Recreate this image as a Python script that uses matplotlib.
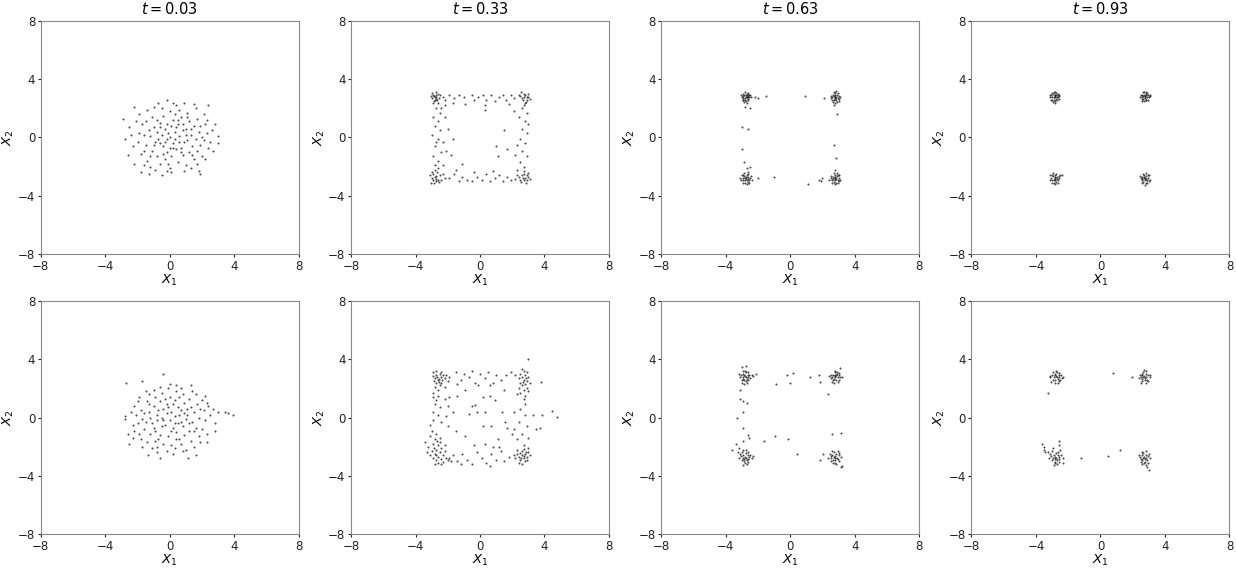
import numpy as np
import matplotlib
matplotlib.use('Agg')
import matplotlib.pyplot as plt

# time labels for the top row
times = ['0.03', '0.33', '0.63', '0.93']
ticks = [-8, -4, 0, 4, 8]

# samples, row 1
top_t003 = [(-2.9, 1.3), (-2.2, 2.1), (2.4, 2.2), (2.8, 0.9), (3.0, 0.1), (3.0, -0.4), (-1.8, -2.4), (1.8, -2.3),
            (-2.8, -0.1), (0.9, 2.4), (-0.7, 2.4), (0.2, 2.4), (-2.5, 0.7), (-2.3, -0.6), (-2.6, -1.2), (-2.2, -1.8),
            (-1.9, 1.6), (-1.7, 0.9), (-1.6, 0.2), (-1.5, -0.5), (-1.8, -1.1), (-1.4, -1.6), (-1.2, -2.0), (-1.4, 1.9),
            (-1.1, 1.4), (-1.0, 0.7), (-1.2, 0.1), (-0.9, -0.3), (-1.1, -0.9), (-0.8, -1.3), (-0.6, -1.8), (-0.9, -2.2),
            (-0.5, 2.0), (-0.4, 1.5), (-0.6, 1.0), (-0.3, 0.6), (-0.5, 0.2), (-0.2, -0.1), (-0.4, -0.6), (-0.2, -1.0),
            (-0.3, -1.5), (0.0, -2.1), (0.1, -2.4), (0.0, 1.8), (0.2, 1.2), (0.1, 0.8), (0.3, 0.4), (0.0, 0.0),
            (0.2, -0.4), (0.4, -0.8), (0.1, -1.3), (0.5, -1.7), (0.6, 1.9), (0.7, 1.4), (0.5, 0.9), (0.8, 0.5),
            (0.6, 0.1), (0.9, -0.3), (0.7, -0.7), (0.8, -1.2), (1.0, -1.9), (1.1, 1.7), (1.2, 1.1), (1.0, 0.6),
            (1.3, 0.2), (1.1, -0.2), (1.4, -0.6), (1.2, -1.0), (1.5, -1.5), (1.6, 2.0), (1.7, 1.3), (1.5, 0.8),
            (1.8, 0.4), (1.6, -0.1), (1.9, -0.5), (1.7, -0.9), (2.0, -1.3), (2.1, 1.6), (2.2, 0.9), (2.3, 0.3),
            (2.1, -0.2), (2.4, -0.7), (2.2, -1.5), (2.6, 0.5), (2.5, -0.3), (-1.3, 0.5), (-0.8, 0.4), (-0.7, -0.1),
            (-0.1, 0.3), (0.3, -0.1), (0.4, 0.7), (-0.2, 0.9), (-0.6, -0.4), (0.6, -0.3), (0.2, -0.7), (-0.4, -1.1),
            (0.5, 1.2), (-0.8, 1.2), (1.0, 0.2), (-1.0, -0.5), (0.0, -0.7), (0.3, 1.6), (-0.1, -1.8), (-1.5, 1.1),
            (1.3, 0.6), (-1.6, -0.9), (1.4, -1.2), (-0.6, 0.7), (0.7, -1.0), (-0.3, -0.3), (0.8, 0.9), (-1.9, 0.3),
            (1.9, 0.8), (-1.2, -1.3), (1.1, 1.4), (-2.0, -0.3), (2.0, 0.0), (-0.2, -2.3), (0.4, 2.2), (-1.0, 2.1),
            (1.3, -2.1), (-2.1, 1.1), (2.3, 1.2), (-1.6, -1.9), (1.7, -1.8), (-2.4, 0.2), (2.7, -0.9), (-0.5, -2.6),
            (0.9, -2.3), (-1.3, -2.5), (1.5, 2.3), (-0.2, 2.6), (1.9, -2.5)]

top_t033 = [(-2.9, 2.9), (-2.7, 2.8), (-2.8, 2.6), (-2.6, 3.0), (-3.0, 2.7), (-2.75, 2.95), (-2.85, 2.5), (-2.55, 2.7),
            (-2.95, 3.05), (-2.65, 2.55), (-2.8, 2.75), (-2.7, 3.1), (-3.05, 2.85), (-2.5, 2.9), (-2.9, 2.4), (-2.6, 2.35),
            (-2.85, 2.85), (-2.75, 2.65), (-2.3, 2.8), (-2.2, 2.6),
            (2.8, 2.9), (2.6, 2.7), (2.9, 2.6), (2.7, 3.0), (3.0, 2.8), (2.5, 2.85), (2.85, 2.45), (2.65, 2.55),
            (2.95, 3.0), (2.75, 2.75), (2.4, 2.95), (3.1, 2.65), (2.8, 2.35), (2.55, 3.1), (2.9, 2.75), (2.7, 2.2),
            (-2.8, -2.7), (-2.6, -2.9), (-2.9, -2.5), (-2.7, -3.0), (-3.0, -2.8), (-2.5, -2.6), (-2.85, -3.1), (-2.65, -2.4),
            (-2.95, -2.35), (-2.75, -2.85), (-2.4, -2.9), (-3.1, -2.6), (-2.55, -3.05), (-2.8, -2.2), (-2.3, -2.5),
            (-2.9, -2.95), (-2.7, -2.65), (-2.2, -2.8), (-3.05, -3.1), (-2.6, -2.1),
            (2.8, -2.8), (2.6, -2.6), (2.9, -2.9), (2.7, -2.5), (3.0, -2.7), (2.5, -2.95), (2.85, -3.1), (2.65, -2.75),
            (2.95, -2.45), (3.1, -2.85), (2.4, -2.7), (2.75, -2.3), (2.55, -3.05), (2.2, -2.85), (2.9, -2.6), (2.7, -2.95),
            (2.3, -2.55),
            (-1.9, 2.9), (-1.6, 2.7), (-1.3, 2.9), (-1.0, 2.8), (-0.9, 2.3), (-0.5, 2.9), (-0.4, 2.6), (-0.1, 2.8),
            (0.2, 2.9), (0.4, 2.6), (0.7, 2.9), (0.9, 2.5), (1.2, 2.8), (1.4, 2.9), (1.6, 2.6), (1.9, 2.9), (2.1, 2.7),
            (-1.7, 2.4), (0.3, 2.2), (0.3, 1.9), (1.8, 2.3), (-2.2, 2.2),
            (-2.7, 2.0), (-2.5, 1.7), (-2.9, 1.4), (-2.6, 1.1), (-2.2, 1.4), (-2.8, 0.8), (-2.5, 0.5), (-3.0, 0.2),
            (-2.6, -0.1), (-2.3, -0.3), (-2.8, -0.6), (-2.4, -1.0), (-2.9, -1.3), (-2.6, -1.6), (-2.3, -1.9),
            (-2.8, -1.9), (-2.1, -0.9), (-2.0, 0.6), (-2.7, -0.3), (-2.4, 2.0),
            (2.6, 2.0), (2.9, 1.7), (2.4, 1.4), (2.8, 1.1), (2.6, 0.6), (2.9, 0.3), (2.5, -0.1), (2.3, -0.5),
            (2.8, -0.4), (2.6, -0.9), (2.2, -1.2), (2.9, -1.3), (2.5, -1.7), (2.7, -2.0), (2.3, -2.2), (2.1, 1.8),
            (2.95, 0.9),
            (-1.9, -2.8), (-1.6, -2.5), (-1.3, -3.0), (-1.1, -2.7), (-0.8, -2.9), (-0.5, -3.0), (-0.2, -2.7),
            (0.1, -2.9), (0.4, -2.5), (0.6, -3.0), (0.9, -2.8), (1.2, -2.6), (1.4, -3.0), (1.7, -2.7), (1.9, -2.9),
            (-1.5, -2.2), (0.8, -2.3), (-0.4, -2.4),
            (1.5, 0.5), (1.0, -0.6), (1.1, -1.3), (1.7, -0.8), (-1.1, -1.8), (-1.7, -0.1), (-1.8, -1.2)]

top_t063 = [(-2.75, 2.8), (-2.6, 2.9), (-2.9, 2.7), (-2.7, 3.0), (-2.85, 2.95), (-2.55, 2.75), (-2.95, 2.85),
            (-2.65, 2.65), (-2.8, 2.55), (-3.0, 2.75), (-2.5, 2.9), (-2.7, 2.75), (-2.8, 3.1), (-2.6, 2.6), (-2.9, 2.6),
            (-2.75, 2.9), (-2.65, 3.05), (-3.05, 2.9), (-2.45, 2.8), (-2.85, 2.45), (-2.7, 2.85), (-2.8, 2.7),
            (-2.6, 2.8), (-2.9, 3.0), (-2.75, 2.5), (-2.55, 2.95), (-2.95, 2.55), (-2.7, 2.4),
            (-2.2, 2.8), (-2.0, 2.7), (-1.5, 2.85), (-2.8, 2.1), (-2.5, 2.05), (0.9, 2.85), (2.1, 2.7), (2.9, 1.6),
            (2.7, 2.2), (-3.0, 0.7), (-2.6, 0.55), (-3.0, -0.8), (-2.85, -1.65), (-2.7, -2.1), (-2.5, -2.05),
            (-2.0, -2.75), (-1.0, -2.7), (1.1, -3.2), (1.8, -2.9), (2.0, -2.8), (1.9, -3.0), (2.7, -0.5), (2.85, -1.4),
            (2.75, -2.2),
            (2.8, 2.8), (2.65, 2.9), (2.95, 2.7), (2.75, 3.05), (2.9, 2.95), (2.6, 2.75), (3.0, 2.85), (2.7, 2.6),
            (2.85, 2.55), (3.05, 2.65), (2.55, 2.85), (2.8, 2.95), (2.7, 3.15), (2.9, 2.45), (2.6, 2.6), (2.85, 2.75),
            (3.1, 2.8), (2.75, 2.4), (2.95, 3.05), (2.5, 2.7), (2.8, 2.65), (2.7, 2.85), (3.0, 2.5), (2.65, 2.45),
            (2.85, 3.2), (2.75, 2.7),
            (-2.75, -2.8), (-2.6, -2.7), (-2.9, -2.9), (-2.7, -2.55), (-2.85, -2.65), (-2.55, -2.95), (-2.95, -2.75),
            (-2.65, -3.05), (-2.8, -3.1), (-3.0, -2.6), (-2.5, -2.8), (-2.7, -2.9), (-2.85, -2.45), (-2.6, -2.85),
            (-2.9, -3.15), (-2.75, -2.7), (-3.05, -2.95), (-2.45, -2.65), (-2.8, -2.95), (-2.65, -2.5), (-2.7, -3.2),
            (-2.9, -2.55), (-2.55, -3.1), (-2.8, -2.8), (-2.6, -2.4), (-3.1, -2.8), (-2.4, -2.9),
            (2.8, -2.8), (2.65, -2.7), (2.95, -2.9), (2.75, -2.55), (2.9, -2.65), (2.6, -2.95), (3.0, -2.75),
            (2.7, -3.05), (2.85, -3.1), (3.05, -2.6), (2.55, -2.8), (2.8, -2.95), (2.9, -2.45), (2.65, -2.85),
            (2.95, -3.1), (2.75, -2.7), (3.1, -2.95), (2.5, -2.65), (2.85, -2.85), (2.7, -2.45), (2.8, -3.2),
            (2.95, -2.55), (2.6, -3.1), (2.75, -2.8), (2.4, -2.9), (3.0, -3.0)]

top_t093 = [(-2.85, 2.85), (-2.7, 2.95), (-3.0, 2.75), (-2.8, 3.1), (-2.95, 3.0), (-2.65, 2.8), (-3.05, 2.9),
            (-2.75, 2.65), (-2.9, 2.6), (-3.1, 2.8), (-2.6, 2.95), (-2.8, 2.8), (-2.9, 3.15), (-2.7, 2.6), (-3.0, 2.55),
            (-2.85, 2.95), (-2.75, 3.05), (-3.15, 2.95), (-2.55, 2.85), (-2.95, 2.45), (-2.8, 2.9), (-2.9, 2.75),
            (-2.7, 2.75), (-3.0, 3.05), (-2.85, 2.5), (-2.65, 3.0), (-3.05, 2.6), (-2.8, 2.4), (-2.6, 2.65),
            (2.75, 2.85), (2.6, 2.95), (2.9, 2.75), (2.7, 3.1), (2.85, 3.0), (2.55, 2.8), (2.95, 2.9), (2.65, 2.65),
            (2.8, 2.6), (3.0, 2.8), (2.5, 2.95), (2.75, 2.75), (2.65, 3.15), (2.85, 2.55), (2.55, 2.65), (2.8, 2.95),
            (3.05, 2.85), (2.7, 2.5), (2.9, 3.05), (2.45, 2.8), (2.75, 2.7), (2.65, 2.85), (2.95, 2.6), (2.6, 2.5),
            (2.85, 3.15), (2.7, 2.95), (3.1, 2.9),
            (-2.85, -2.8), (-2.7, -2.7), (-3.0, -2.9), (-2.8, -2.55), (-2.95, -2.65), (-2.65, -2.95), (-3.05, -2.75),
            (-2.75, -3.05), (-2.9, -3.1), (-3.1, -2.6), (-2.6, -2.8), (-2.8, -2.9), (-2.95, -2.45), (-2.7, -2.85),
            (-3.0, -3.15), (-2.85, -2.7), (-3.15, -2.95), (-2.55, -2.65), (-2.9, -2.95), (-2.75, -2.5), (-2.8, -3.2),
            (-3.0, -2.55), (-2.65, -3.1), (-2.85, -2.85), (-2.5, -2.6), (-2.4, -2.55),
            (2.75, -2.8), (2.6, -2.7), (2.9, -2.9), (2.7, -2.55), (2.85, -2.65), (2.55, -2.95), (2.95, -2.75),
            (2.65, -3.05), (2.8, -3.1), (3.0, -2.6), (2.5, -2.8), (2.75, -2.95), (2.85, -2.45), (2.6, -2.85),
            (2.9, -3.15), (2.7, -2.7), (3.05, -2.95), (2.45, -2.65), (2.8, -2.85), (2.65, -2.5), (2.75, -3.25),
            (2.95, -2.55), (2.55, -3.1), (2.7, -2.8), (3.0, -3.0)]

# row 2
bot_t003 = [(-0.45, 3.0), (-2.7, 2.4), (-1.75, 2.5), (3.0, 0.35), (3.4, 0.4), (3.9, 0.15), (3.6, 0.3), (-2.8, 0.1),
            (-2.8, -0.1), (-2.5, -1.8), (-1.35, -2.6), (-0.6, -2.8), (1.15, -2.8), (1.65, -2.55), (2.3, -1.7),
            (2.8, -0.9), (-2.6, -1.1), (-2.3, -1.4), (0.4, 2.2), (0.0, 2.3), (1.3, 2.2), (2.3, 1.0), (2.7, 0.6),
            (2.8, -0.4),
            (-2.2, 0.8), (-2.1, 0.2), (-2.0, -0.4), (-2.2, -0.9), (-1.9, 1.4), (-1.8, 0.5), (-1.7, -0.1), (-1.6, -0.8),
            (-1.8, -1.5), (-1.5, 1.8), (-1.4, 1.1), (-1.3, 0.4), (-1.5, -0.3), (-1.2, -1.1), (-1.4, -1.7), (-1.1, -2.1),
            (-1.0, 1.9), (-0.9, 1.4), (-1.0, 0.8), (-0.8, 0.2), (-1.1, -0.4), (-0.9, -0.9), (-0.7, -1.5), (-0.8, -2.0),
            (-0.5, 1.7), (-0.6, 1.1), (-0.4, 0.6), (-0.5, 0.0), (-0.3, -0.5), (-0.6, -1.2), (-0.4, -1.8), (-0.2, -2.3),
            (-0.1, 2.0), (0.0, 1.4), (-0.2, 0.9), (0.1, 0.4), (0.0, -0.2), (0.2, -0.7), (-0.1, -1.3), (0.1, -1.9),
            (0.4, 1.8), (0.3, 1.2), (0.5, 0.7), (0.3, 0.1), (0.5, -0.4), (0.4, -1.0), (0.6, -1.5), (0.3, -2.1),
            (0.8, 1.6), (0.9, 1.0), (0.7, 0.5), (1.0, -0.1), (0.8, -0.6), (0.9, -1.2), (0.7, -1.8), (1.2, 1.3),
            (1.3, 0.7), (1.1, 0.2), (1.4, -0.3), (1.2, -0.9), (1.3, -1.6), (1.0, -2.2), (1.6, 1.6), (1.7, 0.9),
            (1.5, 0.4), (1.8, 0.0), (1.6, -0.7), (1.8, -1.3), (1.5, -2.0), (2.0, 1.2), (2.1, 0.5), (2.2, -0.2),
            (2.0, -0.8), (2.3, -1.1), (2.5, 0.2), (2.4, 0.8),
            (-1.2, 0.0), (-0.7, 0.5), (-0.2, 0.3), (0.2, 0.9), (0.6, 0.2), (-0.5, -0.6), (0.1, -0.9), (0.7, -0.3),
            (-1.0, -0.7), (1.1, 0.6), (-0.3, 1.3), (0.6, 1.4), (-1.3, 0.9), (1.5, -0.9), (-0.9, -1.6), (0.4, -1.5),
            (-0.1, 0.7), (0.9, 0.3), (-1.6, 0.3), (1.9, 0.6), (-0.6, 2.1), (0.7, 2.0), (-1.3, 1.6), (1.4, 1.8),
            (-2.0, 1.1), (2.2, 1.5), (-1.9, -1.1), (1.9, -1.7), (-0.8, -2.4), (0.8, -2.3), (-1.7, -2.0), (0.2, -2.5),
            (-2.4, 0.4), (-2.3, -0.5), (1.2, -0.4), (-0.4, -0.2), (0.3, -0.4), (-0.8, -0.2)]

bot_t033 = [(-2.7, 2.9), (-2.5, 3.0), (-2.8, 2.7), (-2.6, 2.6), (-2.9, 3.1), (-2.4, 2.8), (-2.7, 3.2), (-2.3, 2.95),
            (-2.85, 2.5), (-2.55, 2.45), (-2.2, 2.7), (-2.65, 2.75), (-2.45, 3.1), (-2.9, 2.85), (-2.35, 2.55),
            (-2.75, 2.35), (-2.1, 2.9), (-2.5, 2.2), (-2.8, 2.1), (-2.6, 1.9), (-2.9, 1.7), (-2.2, 2.1), (-2.0, 2.5),
            (-2.55, 2.65), (-2.4, 2.35),
            (-2.9, 1.4), (-2.6, 1.5), (-2.2, 1.3), (-2.8, 0.9), (-2.5, 0.7), (-2.0, 0.8), (-2.9, 0.4), (-2.6, 0.2),
            (-2.1, 0.1), (-2.9, -0.2), (-2.4, -0.3), (-2.0, -0.6), (-3.1, -0.5), (-2.7, 1.2), (-1.9, 1.4),
            (-3.0, -0.9), (-2.7, -1.1), (-3.1, -1.3), (-2.8, -1.5), (-2.5, -1.4), (-3.4, -1.7), (-2.9, -1.8),
            (-2.6, -1.9), (-3.2, -2.0), (-2.7, -2.2), (-2.4, -2.1), (-3.0, -2.3), (-2.8, -2.5), (-2.5, -2.4),
            (-2.2, -2.3), (-3.1, -2.6), (-2.6, -2.7), (-2.3, -2.6), (-2.9, -2.8), (-2.7, -2.95), (-2.4, -2.85),
            (-2.1, -2.8), (-2.6, -3.1), (-2.3, -3.05), (-2.0, -2.95), (-2.8, -3.2), (-1.9, -2.75), (-2.5, -1.7),
            (-2.2, -1.9), (-3.3, -2.4), (-2.85, -2.1), (-2.65, -1.6), (-2.45, -3.2), (-1.8, -3.0), (-2.75, -2.6),
            (-1.9, 2.8), (-1.5, 3.1), (-1.2, 2.6), (-1.0, 3.0), (-0.7, 2.8), (-0.5, 3.2), (-0.3, 2.4), (0.0, 3.0),
            (0.3, 2.7), (0.5, 3.1), (0.8, 2.4), (1.0, 2.9), (1.3, 2.6), (-1.4, 2.3), (-0.1, 2.2), (0.6, 2.2),
            (1.6, 2.9), (1.9, 3.1),
            (2.7, 3.2), (2.5, 3.0), (2.9, 3.1), (2.6, 2.8), (2.8, 2.9), (3.0, 2.8), (2.4, 2.7), (2.7, 2.6), (2.9, 2.5),
            (2.5, 2.4), (2.8, 2.3), (3.1, 2.4), (2.6, 2.2), (2.9, 2.0), (2.4, 2.0), (2.7, 1.9), (3.0, 1.8), (2.5, 1.7),
            (2.8, 1.5), (2.3, 1.6), (2.6, 3.3), (2.85, 2.7), (2.65, 2.45), (2.2, 2.9), (3.0, 4.0), (2.7, 1.3),
            (2.8, 0.9), (2.5, 0.6), (2.8, 0.2), (3.3, 0.2), (2.4, -0.3), (2.9, -0.6), (2.6, -1.1), (2.3, -1.5),
            (3.0, -1.4), (3.8, 2.45), (3.85, 0.15), (4.45, 0.45), (4.75, 0.05), (3.7, -0.7), (3.5, -0.8), (2.1, -0.8),
            (2.6, -2.6), (2.4, -2.7), (2.8, -2.5), (2.5, -2.9), (2.7, -2.8), (2.9, -2.7), (2.3, -2.5), (2.6, -2.3),
            (2.8, -3.0), (3.0, -2.4), (2.2, -2.8), (2.5, -2.45), (2.7, -2.15), (2.9, -2.9), (2.4, -3.1), (2.6, -3.2),
            (3.1, -2.6), (2.1, -2.6), (2.75, -2.65), (2.55, -2.75), (2.85, -2.35), (2.3, -2.2), (2.7, -1.9),
            (3.0, -2.1),
            (-1.7, -2.6), (-1.4, -3.0), (-1.1, -2.5), (-0.8, -2.9), (-0.5, -3.2), (-0.2, -2.4), (0.1, -2.8),
            (0.4, -3.1), (0.7, -2.5), (1.0, -2.9), (1.3, -2.3), (1.5, -3.0), (1.8, -2.7), (-1.2, -3.2), (0.6, -3.3),
            (-0.4, -1.9), (0.3, -1.8), (0.8, -2.0), (1.2, -2.05),
            (-0.3, 0.85), (-0.5, 0.8), (-0.2, 0.4), (-0.7, 0.25), (0.3, 0.35), (0.6, 1.5), (0.2, 1.4), (1.35, 0.4),
            (2.1, 0.35), (1.55, -0.3), (1.7, -0.7), (0.2, -0.6), (0.7, -0.6), (2.0, -1.1), (-1.4, 1.5), (-0.9, 1.9),
            (0.9, 1.2), (-1.7, 0.4), (-1.5, -0.9), (1.5, 1.9), (-0.9, -1.3), (1.1, -1.5)]

bot_t063 = [(-2.8, 2.85), (-2.65, 2.95), (-2.95, 2.75), (-2.75, 3.1), (-2.9, 3.0), (-2.6, 2.8), (-3.05, 2.9),
            (-2.7, 2.65), (-2.85, 2.6), (-3.1, 2.75), (-2.55, 2.95), (-2.8, 3.2), (-2.65, 2.55), (-3.0, 2.55),
            (-2.75, 2.8), (-2.9, 3.2), (-2.5, 2.7), (-3.0, 2.4), (-2.7, 2.4), (-2.85, 2.95), (-2.6, 3.1), (-2.95, 2.65),
            (-2.4, 2.9), (-3.15, 3.0), (-2.75, 2.5), (-2.85, 2.3), (-2.3, 2.85),
            (2.8, 2.85), (2.65, 2.95), (2.95, 2.75), (2.75, 3.1), (2.9, 3.0), (2.6, 2.8), (3.05, 2.9), (2.7, 2.65),
            (2.85, 2.6), (3.1, 2.75), (2.55, 2.95), (2.8, 3.2), (2.65, 2.55), (3.0, 2.55), (2.75, 2.8), (2.9, 3.15),
            (2.5, 2.7), (3.2, 2.8), (2.7, 2.4), (2.85, 2.95), (3.0, 3.05), (2.6, 2.45), (2.4, 2.85), (2.95, 2.45),
            (2.75, 2.95),
            (-2.8, -2.7), (-2.65, -2.6), (-2.95, -2.8), (-2.75, -2.45), (-2.9, -2.55), (-2.6, -2.85), (-3.05, -2.65),
            (-2.7, -2.95), (-2.85, -3.0), (-3.1, -2.5), (-2.55, -2.7), (-2.8, -3.15), (-2.65, -2.35), (-3.0, -2.9),
            (-2.75, -2.75), (-2.9, -3.25), (-2.5, -2.55), (-3.2, -2.75), (-2.7, -3.2), (-2.85, -2.85), (-2.4, -2.8),
            (-3.0, -2.35), (-2.6, -3.05), (-2.95, -2.2), (-2.3, -2.65), (-3.25, -2.4), (-2.75, -2.25),
            (2.75, -2.65), (2.6, -2.55), (2.9, -2.75), (2.7, -2.4), (2.85, -2.5), (2.55, -2.8), (3.0, -2.6),
            (2.65, -2.9), (2.8, -2.95), (3.05, -2.45), (2.5, -2.65), (2.75, -3.1), (2.6, -2.3), (2.95, -2.85),
            (2.7, -2.7), (2.85, -3.2), (2.45, -2.5), (3.15, -2.7), (2.65, -3.1), (2.8, -2.8), (2.35, -2.75),
            (2.95, -2.3), (2.55, -3.0), (3.0, -3.0), (3.2, -3.3), (3.15, -3.4),
            (-3.0, 3.5), (-2.75, 3.55), (-2.1, 3.0), (-0.2, 2.9), (0.15, 3.05), (-0.9, 2.3), (0.0, 2.35), (1.25, 2.75),
            (1.8, 2.95), (1.85, 2.45), (2.35, 1.6), (3.1, 3.4), (-3.1, 1.9), (-3.1, 1.3), (-2.9, 1.15), (-2.7, 1.0),
            (-2.95, 0.35), (-3.3, 0.0), (-2.9, -0.75), (-2.6, -1.2), (-2.55, -1.4), (-2.95, -1.6), (-3.35, -1.8),
            (-3.6, -2.2), (-1.6, -1.6), (-0.95, -1.3), (-0.15, -1.5), (0.45, -2.5), (1.85, -2.95), (2.05, -2.5),
            (2.6, -1.1), (3.15, -1.05), (-3.2, -2.1)]

bot_t093 = [(-2.75, 2.85), (-2.6, 2.95), (-2.9, 2.75), (-2.7, 3.1), (-2.85, 3.0), (-2.55, 2.8), (-3.0, 2.9),
            (-2.65, 2.65), (-2.8, 2.6), (-3.1, 2.75), (-2.45, 2.9), (-2.75, 3.2), (-2.6, 2.5), (-2.95, 2.55),
            (-2.7, 2.8), (-2.85, 2.4), (-2.4, 2.7), (-3.15, 2.85), (-2.55, 3.05), (-2.8, 2.95), (-2.3, 2.8),
            (-2.65, 2.35), (-2.95, 3.1), (-2.5, 2.6), (-3.05, 2.45),
            (2.7, 2.85), (2.55, 2.95), (2.85, 2.75), (2.65, 3.1), (2.8, 3.0), (2.5, 2.8), (2.95, 2.9), (2.6, 2.65),
            (2.75, 2.55), (3.05, 2.75), (2.45, 2.9), (2.7, 3.25), (2.55, 2.5), (2.9, 2.6), (2.65, 2.8), (2.8, 2.4),
            (2.4, 2.7), (3.1, 2.95), (2.6, 3.0), (2.75, 2.7), (2.85, 3.2), (2.5, 2.4), (2.95, 2.5),
            (-2.8, -2.7), (-2.65, -2.6), (-2.95, -2.8), (-2.75, -2.45), (-2.9, -2.55), (-2.6, -2.85), (-3.05, -2.65),
            (-2.7, -2.95), (-2.85, -3.05), (-3.1, -2.5), (-2.55, -2.7), (-2.8, -3.15), (-2.65, -2.35), (-3.0, -2.95),
            (-2.75, -2.75), (-2.9, -3.25), (-2.45, -2.55), (-3.2, -2.75), (-2.7, -3.2), (-2.85, -2.85), (-2.35, -2.8),
            (-3.0, -2.3), (-2.6, -3.05), (-2.95, -2.1), (-2.3, -3.1), (-3.25, -2.4), (-2.6, -1.9), (-2.5, -2.2),
            (-3.5, -2.0), (-3.45, -2.4),
            (2.7, -2.7), (2.55, -2.6), (2.85, -2.8), (2.65, -2.45), (2.8, -2.55), (2.5, -2.85), (2.95, -2.65),
            (2.6, -2.95), (2.75, -3.05), (3.0, -2.5), (2.45, -2.7), (2.7, -3.15), (2.55, -2.35), (2.9, -2.95),
            (2.65, -2.75), (2.8, -3.25), (2.4, -2.55), (3.05, -2.8), (2.6, -3.2), (2.75, -2.85), (2.85, -2.3),
            (2.5, -3.05), (2.95, -3.1), (2.9, -3.4), (3.0, -3.6),
            (0.75, 3.05), (1.95, 2.8), (-3.25, 1.65), (-3.6, -1.8), (-2.6, -1.6), (-1.2, -2.8), (0.45, -2.65),
            (1.2, -2.2), (-3.5, -2.2)]

rows = [[top_t003, top_t033, top_t063, top_t093],
        [bot_t003, bot_t033, bot_t063, bot_t093]]

plt.rcParams['xtick.major.size'] = 2
plt.rcParams['ytick.major.size'] = 2
plt.rcParams['xtick.major.pad'] = 2
plt.rcParams['ytick.major.pad'] = 2

fig = plt.figure(figsize=(12.36, 5.69), dpi=100)
lefts = [0.033, 0.284, 0.535, 0.786]
bottoms = [0.5536, 0.0615]
w, h = 0.2087, 0.4095

for r in range(2):
    for c in range(4):
        ax = fig.add_axes([lefts[c], bottoms[r], w, h])
        pts = np.array(rows[r][c])
        ax.scatter(pts[:, 0], pts[:, 1], s=2.2, c='#222222', linewidths=0, alpha=0.8)
        ax.set_xlim(-8, 8)
        ax.set_ylim(-8, 8)
        ax.set_xticks(ticks)
        ax.set_yticks(ticks)
        ax.tick_params(labelsize=8.5, colors='#222222')
        ax.set_xlabel('$X_1$', fontsize=9.5, labelpad=0)
        ax.set_ylabel('$X_2$', fontsize=9.5, labelpad=1)
        for sp in ax.spines.values():
            sp.set_color('#888888')
        if r == 0:
            ax.set_title('$t = %s$' % times[c], fontsize=10.5, pad=5)

fig.savefig('out.png', dpi=100)
